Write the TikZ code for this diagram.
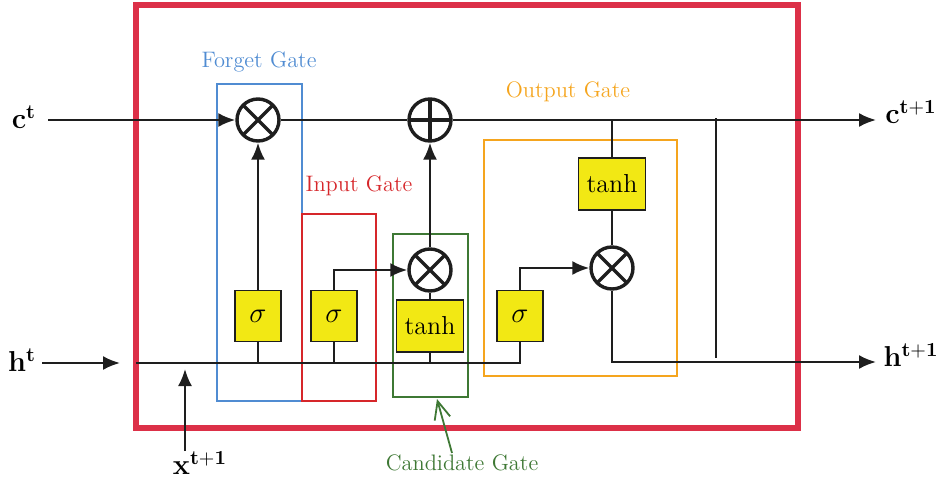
\documentclass[tikz,border=0pt]{standalone}
\usepackage{amsmath}
\usetikzlibrary{arrows.meta}
\definecolor{outerred}{RGB}{220,48,72}
\definecolor{gred}{RGB}{214,38,42}
\definecolor{gblue}{RGB}{80,140,210}
\definecolor{ggreen}{RGB}{62,120,52}
\definecolor{gorange}{RGB}{245,165,30}
\definecolor{gyellow}{RGB}{242,232,20}
\definecolor{ink}{RGB}{30,30,30}
\begin{document}
\begin{tikzpicture}[x=0.5pt,y=-0.5pt,
  conn/.style={draw=ink, line width=1.1pt},
  arr/.style={conn, -{Latex[length=8.5pt,width=7pt]}},
  op/.style={circle, draw=ink, line width=1.7pt, minimum size=21pt, inner sep=0pt},
  mult/.style={op, path picture={\draw[ink, line width=1.7pt]
     (path picture bounding box.south west) -- (path picture bounding box.north east)
     (path picture bounding box.north west) -- (path picture bounding box.south east);}},
  plus/.style={op, path picture={\draw[ink, line width=1.7pt]
     (path picture bounding box.north) -- (path picture bounding box.south)
     (path picture bounding box.west) -- (path picture bounding box.east);}},
  act/.style={draw=ink, line width=0.9pt, fill=gyellow, inner sep=0pt,
     font=\fontsize{13}{15}\selectfont},
  sig/.style={act, minimum width=23pt, minimum height=25.5pt, font=\fontsize{14}{16}\selectfont},
  th/.style={act, minimum width=33.5pt, minimum height=26pt},
  gatebox/.style={line width=0.8pt},
  glabel/.style={font=\fontsize{11.2}{13}\selectfont, inner sep=0pt},
  io/.style={font=\fontsize{14}{16}\selectfont, inner sep=0pt}
]
\useasboundingbox (0,0) rectangle (942,482);

% outer cell
\draw[outerred, line width=3pt] (136,5) rectangle (798,428);

% gate boxes
\draw[gblue, gatebox] (217,84) rectangle (302,401);
\draw[gred, gatebox] (302,214) rectangle (376,401);
\draw[ggreen, gatebox] (393,234) rectangle (468,397);
\draw[gorange, gatebox] (484,140) rectangle (677,376);

% gate labels
\node[glabel, text=gblue] (lf) at (259,62) {Forget Gate};
\node[glabel, text=gred] (li) at (359,186) {Input Gate};
\node[glabel, text=gorange] (lo) at (568,92) {Output Gate};
\node[glabel, text=ggreen] (lc) at (462,463) {Candidate Gate};

% operators
\node[mult] (mf) at (258,120) {};
\node[plus] (ap) at (430,120) {};
\node[mult] (mc) at (430,270) {};
\node[mult] (mo) at (612,268) {};

% activation boxes
\node[sig] (sf) at (258,316) {$\sigma$};
\node[sig] (si) at (334,316) {$\sigma$};
\node[th]  (tc) at (430,326) {tanh};
\node[sig] (so) at (520,316) {$\sigma$};
\node[th]  (to) at (612,184) {tanh};

% input / output labels
\node[io] (cin) at (24,117) {$\mathbf{c^{t}}$};
\node[io] (hin) at (22,360) {$\mathbf{h^{t}}$};
\node[io] (xin) at (200,463) {$\mathbf{x^{t+1}}$};
\node[io] (cout) at (911,112) {$\mathbf{c^{t+1}}$};
\node[io] (hout) at (911,355) {$\mathbf{h^{t+1}}$};

% coordinates
\coordinate (cstart) at (48,120);
\coordinate (cend) at (876,120);
\coordinate (hinA) at (42,363);
\coordinate (hinB) at (120,363);
\coordinate (hstart) at (136,363);
\coordinate (hend) at (876,362);
\coordinate (xA) at (185,451);
\coordinate (xB) at (185,369);
\coordinate (vtop) at (716,118);
\coordinate (vbot) at (716,358);
\coordinate (ctail) at (452,453);
\coordinate (ctip) at (437,399);

% cell state line
\draw[arr] (cstart) -- (mf.west);
\draw[conn] (mf.east) -- (ap.west);
\draw[arr] (ap.east) -- (cend);

% hidden / input
\draw[arr] (hinA) -- (hinB);
\draw[arr] (xA) -- (xB);
\draw[conn] (hstart) -| (so.south);

% forget gate
\draw[conn] (sf.south |- hstart) -- (sf.south);
\draw[arr] (sf.north) -- (mf.south);

% input gate
\draw[conn] (si.south |- hstart) -- (si.south);
\draw[arr] (si.north) |- (mc.west);

% candidate
\draw[conn] (tc.south |- hstart) -- (tc.south);
\draw[conn] (tc.north) -- (mc.south);
\draw[arr] (mc.north) -- (ap.south);

% output gate
\draw[arr] (so.north) |- (mo.west);
\draw[conn] (to.north |- ap.east) -- (to.north);
\draw[conn] (to.south) -- (mo.north);
\draw[arr] (mo.south) |- (hend);

% vertical line
\draw[conn] (vtop) -- (vbot);

% candidate label pointer
\draw[ggreen, line width=0.9pt, -{Straight Barb[length=9pt,width=8pt]}] (ctail) -- (ctip);
\end{tikzpicture}
\end{document}
